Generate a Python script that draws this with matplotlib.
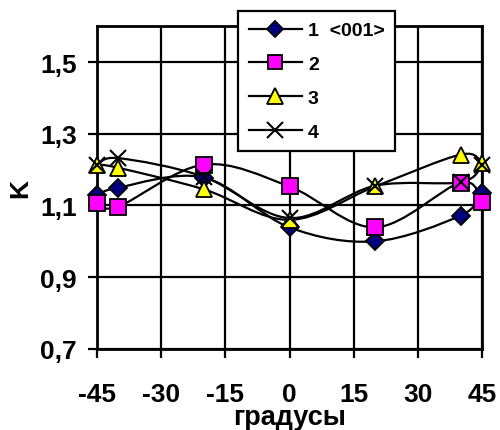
import matplotlib
matplotlib.use("Agg")
import matplotlib.pyplot as plt
from matplotlib.path import Path
from matplotlib.patches import PathPatch
from matplotlib.lines import Line2D
import numpy as np

plt.rcParams["font.family"] = ["Liberation Sans", "DejaVu Sans"]
plt.rcParams["font.weight"] = "bold"

# ── Data ──────────────────────────────────────────────────────────────────────
angles = [-45, -40, -20, 0, 20, 40, 45]
k1 = [1.128, 1.150, 1.178, 1.039, 1.000, 1.072, 1.134]
k2 = [1.108, 1.097, 1.214, 1.153, 1.039, 1.164, 1.111]
k3 = [1.214, 1.205, 1.145, 1.060, 1.153, 1.242, 1.219]
k4 = [1.212, 1.232, 1.180, 1.065, 1.155, 1.165, 1.212]
labels = ["1  <001>", "2", "3", "4"]

x_ticks = [-45, -30, -15, 0, 15, 30, 45]
y_ticks = [0.7, 0.9, 1.1, 1.3, 1.5]

styles = [
    dict(marker="D", mfc="#000080", ms=9),
    dict(marker="s", mfc="#ff00ff", ms=11),
    dict(marker="^", mfc="#ffff00", ms=12),
    dict(marker="x", mfc="none", ms=12),
]


def smooth_path(x, y):
    # excel-like smoothed line: cubic bezier through the points
    p = np.column_stack([x, y]).astype(float)
    n = len(p)
    verts = [p[0]]
    codes = [Path.MOVETO]
    for i in range(n - 1):
        p0 = p[i - 1] if i > 0 else p[i]
        p3 = p[i + 2] if i + 2 < n else p[i + 1]
        c1 = p[i] + (p[i + 1] - p0) / 6
        c2 = p[i + 1] - (p3 - p[i]) / 6
        verts += [c1, c2, p[i + 1]]
        codes += [Path.CURVE4] * 3
    return Path(verts, codes)


fig = plt.figure(figsize=(5.0, 4.31), dpi=100)
ax = fig.add_axes([0.194, 0.188, 0.770, 0.749])

for vals in [k1, k2, k3, k4]:
    ax.add_patch(PathPatch(smooth_path(angles, vals), fc="none",
                           ec="black", lw=1.6, zorder=3))
for vals, st in zip([k1, k2, k3, k4], styles):
    if st["marker"] == "x":
        ax.plot(angles, vals, ls="none", marker="x", ms=st["ms"],
                mec="black", mew=1.5, zorder=4, clip_on=False)
    else:
        ax.plot(angles, vals, ls="none", marker=st["marker"], ms=st["ms"],
                mfc=st["mfc"], mec="black", mew=1.3, zorder=4, clip_on=False)

ax.set_xlim(-45, 45)
ax.set_ylim(0.7, 1.6)
ax.set_xticks(x_ticks)
ax.set_xticklabels([str(v) for v in x_ticks])
ax.set_yticks(y_ticks)
ax.set_yticklabels([f"{v:.1f}".replace(".", ",") for v in y_ticks])
ax.grid(True, color="black", lw=1.6)
ax.set_axisbelow(True)
for s in ax.spines.values():
    s.set_linewidth(2.0)
ax.tick_params(direction="out", length=6.5, width=1.6, labelsize=19)
ax.tick_params(axis="x", pad=17)
ax.tick_params(axis="y", pad=8)

ax.set_xlabel("градусы", fontsize=19.5, fontweight="bold")
ax.xaxis.set_label_coords(0.5, -0.172)
ax.set_ylabel("K", fontsize=19, fontweight="bold")
ax.yaxis.set_label_coords(-0.169, 0.5)

handles = []
for st in styles:
    if st["marker"] == "x":
        h = Line2D([], [], color="black", lw=1.6, marker="x", ms=st["ms"],
                   mec="black", mew=1.5)
    else:
        h = Line2D([], [], color="black", lw=1.6, marker=st["marker"],
                   ms=st["ms"] - 1, mfc=st["mfc"], mec="black", mew=1.3)
    handles.append(h)

leg = fig.legend(handles, labels, loc="upper left",
                 bbox_to_anchor=(238 / 500, 1 - 12 / 431),
                 prop={"size": 14, "weight": "bold"},
                 frameon=True, fancybox=False, edgecolor="black",
                 framealpha=1, handlelength=2.75, labelspacing=0.83,
                 borderpad=0.55, handletextpad=0.3, borderaxespad=0)
leg.get_frame().set_linewidth(1.6)
leg.set_zorder(10)

fig.savefig("out.png", dpi=100)
